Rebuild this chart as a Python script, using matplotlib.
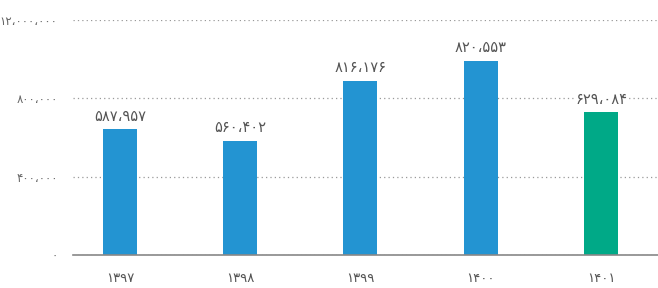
import matplotlib
matplotlib.use("Agg")
import matplotlib.pyplot as plt

categories = ["۱۳۹۷", "۱۳۹۸", "۱۳۹۹", "۱۴۰۰", "۱۴۰۱"]
bar_values = [643000, 582000, 891000, 992000, 729000]
value_labels = ["۵۸۷،۹۵۷", "۵۶۰،۴۰۲", "۸۱۶،۱۷۶", "۸۲۰،۵۵۳", "۶۲۹،۰۸۴"]
bar_colors = ["#2394D2", "#2394D2", "#2394D2", "#2394D2", "#00A987"]
y_ticks = [0, 400000, 800000, 1200000]
y_tick_labels = ["۰", "۴۰۰،۰۰۰", "۸۰۰،۰۰۰", "۱۲،۰۰۰،۰۰۰"]

plt.rcParams['font.family'] = ['DejaVu Sans']

fig = plt.figure(figsize=(6.58, 2.88), dpi=100)
W, H = 658, 288
ax = fig.add_axes([73 / W, 1 - 255 / H, (658 - 73) / W, (255 - 20) / H])

x = list(range(len(categories)))
ax.bar(x, bar_values, width=0.283, color=bar_colors, zorder=3)

for xi, v, lab in zip(x, bar_values, value_labels):
    ax.annotate(lab, (xi, v), xytext=(0, 4), textcoords="offset points",
                ha="center", va="bottom", fontsize=10.5, color="#555555",
                zorder=5,
                bbox=dict(boxstyle="square,pad=0.1", fc="white", ec="none"))

ax.set_xlim(-0.39, 4.474)
ax.set_ylim(0, 1200000)
ax.set_yticks(y_ticks)
ax.set_yticklabels(y_tick_labels)
ax.set_xticks(x)
ax.set_xticklabels(categories)

ax.tick_params(axis="y", length=0, pad=11, labelsize=8.5, labelcolor="#666666")
ax.tick_params(axis="x", length=0, pad=12, labelsize=9.5, labelcolor="#555555")

for s in ["top", "right", "left"]:
    ax.spines[s].set_visible(False)
ax.spines["bottom"].set_color("#888888")
ax.spines["bottom"].set_linewidth(1.2)
ax.spines["bottom"].set_zorder(4)

ax.yaxis.grid(True, linestyle=(0, (1, 2.5)), color="#999999", linewidth=0.9, zorder=0)
ax.set_axisbelow(True)

fig.savefig("out.png", dpi=100)
